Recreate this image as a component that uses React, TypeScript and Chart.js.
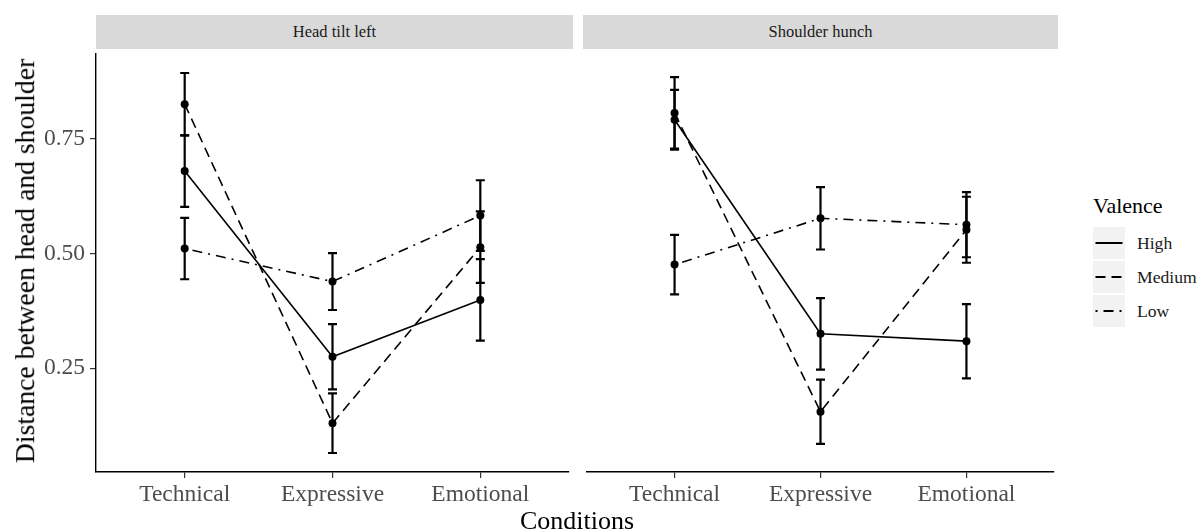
import React, { useEffect, useRef } from 'react';
import { Chart, registerables } from 'chart.js';

Chart.register(...registerables);

// ---- data ----
const conditions = ['Technical', 'Expressive', 'Emotional'];
const panelTitles = ['Head tilt left', 'Shoulder hunch'];
const valenceLevels = ['High', 'Medium', 'Low'];
const yTickValues = [0.25, 0.5, 0.75];

// Head tilt left: means and error half-widths per condition
const headTiltHigh = [0.68, 0.275, 0.399];
const headTiltHighErr = [0.078, 0.071, 0.089];
const headTiltMedium = [0.826, 0.13, 0.514];
const headTiltMediumErr = [0.068, 0.065, 0.078];
const headTiltLow = [0.511, 0.439, 0.583];
const headTiltLowErr = [0.067, 0.062, 0.077];

// Shoulder hunch
const shoulderHigh = [0.792, 0.325, 0.309];
const shoulderHighErr = [0.065, 0.078, 0.081];
const shoulderMedium = [0.807, 0.155, 0.552];
const shoulderMediumErr = [0.078, 0.07, 0.072];
const shoulderLow = [0.476, 0.577, 0.563];
const shoulderLowErr = [0.065, 0.068, 0.071];

// ---- styling ----
const FONT = '"Liberation Serif", "Times New Roman", serif';
const TICK_COLOR = '#4d4d4d';
const TICK_SIZE = 23.5;
const dashes: Record<string, number[]> = {
  High: [],
  Medium: [10, 6],
  Low: [2, 6, 10, 6],
};

// y range with 5% expansion around all error bars (both panels share it)
const allLows = [
  ...headTiltHigh.map((v, i) => v - headTiltHighErr[i]),
  ...headTiltMedium.map((v, i) => v - headTiltMediumErr[i]),
  ...headTiltLow.map((v, i) => v - headTiltLowErr[i]),
  ...shoulderHigh.map((v, i) => v - shoulderHighErr[i]),
  ...shoulderMedium.map((v, i) => v - shoulderMediumErr[i]),
  ...shoulderLow.map((v, i) => v - shoulderLowErr[i]),
];
const allHighs = [
  ...headTiltHigh.map((v, i) => v + headTiltHighErr[i]),
  ...headTiltMedium.map((v, i) => v + headTiltMediumErr[i]),
  ...headTiltLow.map((v, i) => v + headTiltLowErr[i]),
  ...shoulderHigh.map((v, i) => v + shoulderHighErr[i]),
  ...shoulderMedium.map((v, i) => v + shoulderMediumErr[i]),
  ...shoulderLow.map((v, i) => v + shoulderLowErr[i]),
];
const dataMin = Math.min(...allLows);
const dataMax = Math.max(...allHighs);
const Y_MIN = dataMin - 0.05 * (dataMax - dataMin);
const Y_MAX = dataMax + 0.05 * (dataMax - dataMin);

// ---- layout (page pixels) ----
const PANEL_TOP = 50;
const PANEL_BOTTOM = 472;
const LEFT_AXIS_W = 96;
const LEFT_PANEL_R = 573;
const RIGHT_PANEL_L = 583;
const RIGHT_PANEL_R = 1058;
const X_AXIS_H = 60;

const errorBarPlugin = {
  id: 'errorBars',
  afterDatasetsDraw(chart: any) {
    const { ctx } = chart;
    const x = chart.scales.x;
    const y = chart.scales.y;
    ctx.save();
    ctx.strokeStyle = '#000';
    ctx.lineWidth = 2.2;
    ctx.setLineDash([]);
    chart.data.datasets.forEach((ds: any) => {
      ds.data.forEach((p: any, i: number) => {
        const e = ds.errors[i];
        const px = x.getPixelForValue(p.x);
        const top = y.getPixelForValue(p.y + e);
        const bot = y.getPixelForValue(p.y - e);
        ctx.beginPath();
        ctx.moveTo(px, top);
        ctx.lineTo(px, bot);
        ctx.moveTo(px - 4.5, top);
        ctx.lineTo(px + 4.5, top);
        ctx.moveTo(px - 4.5, bot);
        ctx.lineTo(px + 4.5, bot);
        ctx.stroke();
      });
    });
    ctx.restore();
  },
};

function makeDataset(label: string, values: number[], errors: number[]) {
  return {
    label,
    data: values.map((v, i) => ({ x: i + 1, y: v })),
    errors,
    borderColor: '#000',
    backgroundColor: '#000',
    borderWidth: 1.6,
    borderDash: dashes[label],
    pointRadius: 4,
    pointHoverRadius: 4,
    pointBorderWidth: 0,
    pointBackgroundColor: '#000',
    tension: 0,
    fill: false,
  };
}

function buildOptions(showY: boolean): any {
  const axisGrid = {
    display: true,
    drawOnChartArea: false,
    drawTicks: true,
    tickLength: 6,
    color: '#333',
    lineWidth: 1.2,
  };
  const axisBorder = { display: true, color: '#000', width: 1.4 };
  const yAxis: any = {
    type: 'linear',
    display: showY,
    min: Y_MIN,
    max: Y_MAX,
    afterBuildTicks: (s: any) => {
      s.ticks = yTickValues.map((v) => ({ value: v }));
    },
    ticks: {
      callback: (v: any) => Number(v).toFixed(2),
      font: { family: FONT, size: TICK_SIZE },
      color: TICK_COLOR,
      padding: 5,
    },
    grid: axisGrid,
    border: axisBorder,
  };
  if (showY) {
    yAxis.afterFit = (s: any) => {
      s.width = LEFT_AXIS_W;
      s.paddingTop = 0;
      s.paddingBottom = 0;
    };
  }
  return {
    responsive: false,
    maintainAspectRatio: false,
    animation: false,
    devicePixelRatio: 1,
    events: [],
    layout: { padding: 0 },
    plugins: { legend: { display: false }, tooltip: { enabled: false } },
    scales: {
      x: {
        type: 'linear',
        min: 0.4,
        max: 3.6,
        afterBuildTicks: (s: any) => {
          s.ticks = conditions.map((_, i) => ({ value: i + 1 }));
        },
        ticks: {
          callback: (v: any) => conditions[Math.round(Number(v)) - 1] ?? '',
          font: { family: FONT, size: TICK_SIZE },
          color: TICK_COLOR,
          padding: 3,
          maxRotation: 0,
          autoSkip: false,
        },
        grid: axisGrid,
        border: axisBorder,
        afterFit: (s: any) => {
          s.height = X_AXIS_H;
          s.paddingLeft = 0;
          s.paddingRight = 0;
        },
      },
      y: yAxis,
    },
  };
}

function Panel(props: {
  left: number;
  width: number;
  showY: boolean;
  high: number[];
  highErr: number[];
  medium: number[];
  mediumErr: number[];
  low: number[];
  lowErr: number[];
}) {
  const ref = useRef<HTMLCanvasElement | null>(null);
  useEffect(() => {
    if (!ref.current) return;
    const chart = new Chart(ref.current, {
      type: 'line',
      data: {
        datasets: [
          makeDataset('High', props.high, props.highErr),
          makeDataset('Medium', props.medium, props.mediumErr),
          makeDataset('Low', props.low, props.lowErr),
        ] as any,
      },
      options: buildOptions(props.showY),
      plugins: [errorBarPlugin],
    });
    return () => chart.destroy();
  }, []);
  const height = PANEL_BOTTOM - PANEL_TOP + X_AXIS_H;
  return (
    <canvas
      ref={ref}
      width={props.width}
      height={height}
      style={{ position: 'absolute', left: props.left, top: PANEL_TOP, width: props.width, height }}
    />
  );
}

function Strip(props: { left: number; right: number; text: string }) {
  return (
    <div
      style={{
        position: 'absolute',
        left: props.left,
        top: 15,
        width: props.right - props.left,
        height: 34,
        background: '#d9d9d9',
        color: '#1a1a1a',
        fontFamily: FONT,
        fontSize: 16.5,
        lineHeight: '34px',
        textAlign: 'center',
      }}
    >
      {props.text}
    </div>
  );
}

function LegendKey(props: { level: string; top: number }) {
  const dash = dashes[props.level];
  return (
    <div style={{ position: 'absolute', left: 1092, top: props.top, height: 34, width: 120 }}>
      <svg width={34} height={34} style={{ position: 'absolute', left: 0, top: 0 }}>
        <rect x={0.5} y={0.5} width={33} height={33} fill="#f2f2f2" stroke="#ffffff" strokeWidth={1} />
        <line
          x1={3.5}
          y1={17}
          x2={30.5}
          y2={17}
          stroke="#000"
          strokeWidth={2}
          strokeDasharray={dash.length ? dash.join(',') : undefined}
        />
      </svg>
      <div
        style={{
          position: 'absolute',
          left: 45,
          top: 0,
          lineHeight: '34px',
          fontFamily: FONT,
          fontSize: 17.6,
          color: '#1a1a1a',
          whiteSpace: 'nowrap',
        }}
      >
        {props.level}
      </div>
    </div>
  );
}

export default function App() {
  return (
    <div
      style={{
        position: 'absolute',
        left: 0,
        top: 0,
        width: 1197,
        height: 532,
        background: '#fff',
        overflow: 'hidden',
      }}
    >
      <Strip left={LEFT_AXIS_W} right={LEFT_PANEL_R} text={panelTitles[0]} />
      <Strip left={RIGHT_PANEL_L} right={RIGHT_PANEL_R} text={panelTitles[1]} />
      <Panel
        left={0}
        width={LEFT_PANEL_R}
        showY={true}
        high={headTiltHigh}
        highErr={headTiltHighErr}
        medium={headTiltMedium}
        mediumErr={headTiltMediumErr}
        low={headTiltLow}
        lowErr={headTiltLowErr}
      />
      <Panel
        left={RIGHT_PANEL_L}
        width={RIGHT_PANEL_R - RIGHT_PANEL_L}
        showY={false}
        high={shoulderHigh}
        highErr={shoulderHighErr}
        medium={shoulderMedium}
        mediumErr={shoulderMediumErr}
        low={shoulderLow}
        lowErr={shoulderLowErr}
      />
      <div
        style={{
          position: 'absolute',
          left: 25,
          top: (PANEL_TOP + PANEL_BOTTOM) / 2,
          transform: 'translate(-50%, -50%) rotate(-90deg)',
          fontFamily: FONT,
          fontSize: 27.7,
          color: '#000',
          whiteSpace: 'nowrap',
          lineHeight: 1,
        }}
      >
        Distance between head and shoulder
      </div>
      <div
        style={{
          position: 'absolute',
          left: (LEFT_AXIS_W + RIGHT_PANEL_R) / 2,
          top: 521,
          transform: 'translate(-50%, -50%)',
          fontFamily: FONT,
          fontSize: 26,
          color: '#000',
          whiteSpace: 'nowrap',
          lineHeight: 1,
        }}
      >
        Conditions
      </div>
      <div
        style={{
          position: 'absolute',
          left: 1093,
          top: 206,
          transform: 'translateY(-50%)',
          fontFamily: FONT,
          fontSize: 22,
          color: '#000',
          whiteSpace: 'nowrap',
          lineHeight: 1,
        }}
      >
        Valence
      </div>
      {valenceLevels.map((lvl, i) => (
        <LegendKey key={lvl} level={lvl} top={226 + i * 34} />
      ))}
    </div>
  );
}
